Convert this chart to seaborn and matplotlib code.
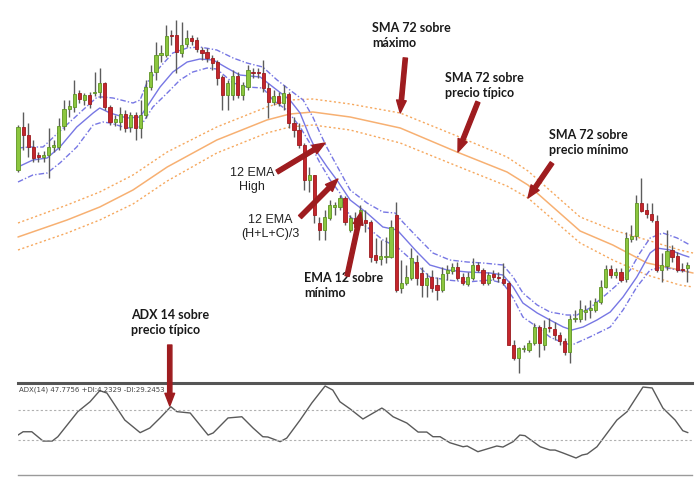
import numpy as np
import pandas as pd
import matplotlib.pyplot as plt
import seaborn as sns

# ---- candles (price points), one value per bar ----
open_ = [230, 273, 265, 253, 245, 243, 245, 253, 253, 274,
         291, 293, 307, 300, 305, 307, 308, 317, 293, 278,
         278, 286, 273, 285, 272, 285, 313, 328, 345, 345,
         365, 365, 347, 356, 362, 360, 350, 348, 342, 338,
         323, 305, 305, 324, 305, 313, 328, 328, 327, 312,
         298, 304, 297, 306, 277, 270, 255, 220, 225, 177,
         170, 182, 193, 193, 202, 170, 182, 178, 180, 178,
         145, 141, 143, 143, 185, 112, 117, 122, 138, 127,
         115, 123, 115, 110, 127, 129, 133, 123, 116, 122,
         135, 130, 117, 126, 123, 121, 117, 55, 42, 51,
         50, 57, 73, 55, 73, 71, 65, 59, 48, 81,
         81, 88, 90, 90, 98, 113, 131, 125, 128, 121,
         161, 164, 197, 190, 186, 179, 130, 134, 150, 144,
         131, 132]
high = [275, 288, 277, 260, 248, 249, 272, 260, 282, 300,
        300, 320, 310, 307, 308, 328, 332, 318, 295, 285,
        293, 290, 288, 288, 300, 320, 335, 358, 355, 375,
        370, 380, 378, 370, 365, 363, 353, 352, 345, 340,
        325, 320, 330, 328, 318, 335, 332, 332, 340, 317,
        310, 308, 315, 308, 283, 277, 257, 233, 225, 183,
        190, 200, 198, 205, 204, 185, 188, 195, 190, 180,
        162, 160, 163, 180, 198, 140, 135, 152, 145, 133,
        127, 130, 123, 133, 135, 137, 138, 127, 128, 142,
        138, 132, 128, 130, 128, 137, 119, 60, 53, 55,
        60, 77, 75, 80, 82, 78, 68, 62, 85, 90,
        100, 95, 100, 102, 120, 135, 135, 132, 132, 168,
        175, 205, 222, 197, 197, 185, 147, 170, 155, 148,
        137, 138]
low = [228, 250, 243, 238, 238, 238, 222, 248, 250, 270,
       283, 288, 297, 295, 292, 304, 302, 290, 275, 274,
       270, 268, 268, 260, 262, 282, 310, 320, 338, 343,
       355, 327, 343, 353, 355, 348, 340, 338, 330, 315,
       290, 290, 300, 302, 300, 310, 322, 322, 308, 282,
       295, 294, 290, 272, 263, 252, 210, 208, 177, 160,
       160, 180, 185, 190, 175, 168, 168, 175, 168, 138,
       137, 135, 137, 142, 108, 107, 115, 120, 115, 103,
       103, 108, 100, 108, 120, 126, 120, 115, 114, 120,
       128, 115, 115, 120, 118, 115, 55, 40, 27, 48,
       48, 55, 43, 50, 68, 60, 55, 45, 37, 78,
       78, 80, 82, 88, 96, 112, 122, 122, 118, 118,
       158, 160, 188, 182, 178, 128, 118, 130, 138, 128,
       128, 118]
close = [273, 265, 253, 242, 243, 245, 253, 255, 274, 291,
         294, 306, 301, 305, 296, 308, 317, 293, 278, 281,
         286, 272, 285, 272, 285, 313, 328, 345, 347, 364,
         364, 348, 355, 362, 359, 351, 347, 342, 337, 322,
         305, 317, 324, 305, 315, 330, 327, 327, 312, 298,
         304, 297, 307, 277, 270, 255, 220, 225, 185, 170,
         183, 195, 195, 202, 178, 182, 173, 190, 177, 143,
         140, 144, 144, 173, 110, 117, 123, 142, 122, 115,
         122, 112, 110, 126, 130, 133, 122, 117, 123, 135,
         130, 117, 125, 123, 122, 117, 55, 42, 52, 52,
         57, 73, 57, 72, 72, 65, 59, 48, 81, 82,
         91, 90, 92, 98, 113, 131, 125, 128, 120, 162,
         164, 197, 189, 186, 180, 130, 135, 149, 143, 130,
         130, 135]

# ---- 12 EMA envelope ----
ema_mid_bar = [0, 2.9, 5.7, 8.2, 11.5, 14.7, 16, 18, 21.3, 23.9, 25.2, 27.8, 30.3, 33.1, 35.6,
               38.2, 40.9, 43.4, 47.4, 49.9, 53.2, 55.2, 57.1, 58.5, 60.5, 62.4, 65, 68.3, 71.4,
               74.2, 78.1, 80.6, 84, 87.9, 92.4, 94.9, 96.9, 98.8, 101.6, 104.1, 106.7, 108.4,
               110.6, 113.3, 115.9, 118.4, 121.1, 123.7, 125, 127.6, 130.1, 131.3]
ema_mid = [233, 240, 242, 253, 273, 287, 292, 287, 282, 283, 293, 313, 328, 338, 341,
           340, 332, 325, 323, 313, 300, 287, 263, 248, 233, 220, 200, 187, 173,
           170, 148, 135, 130, 128, 127, 125, 113, 97, 87, 80, 73, 70,
           73, 80, 88, 103, 123, 147, 152, 150, 145, 143]
ema_high_bar = [0, 2.3, 4.9, 7.8, 12.7, 15.5, 16.6, 18.6, 22.5, 23.9, 25.2, 27.8, 30.3, 33.1, 35.6,
                38.9, 42.1, 44.8, 47.9, 50.7, 53.2, 55.8, 57.7, 59.1, 60.5, 65, 68.3, 71.4, 73.8,
                75.3, 78.1, 81.2, 84.5, 87.9, 91, 94.9, 96.9, 98.8, 101.6, 104.1, 107.4, 109.4,
                111.9, 114.5, 117.2, 119.8, 121.7, 123.7, 126.2, 129, 131.5]
ema_high = [252, 253, 253, 267, 290, 303, 303, 302, 297, 300, 317, 333, 347, 352, 353,
            350, 342, 337, 333, 320, 310, 300, 283, 267, 252, 210, 197, 188, 187,
            178, 163, 147, 140, 138, 137, 135, 123, 107, 95, 88, 85, 85,
            92, 103, 115, 130, 147, 162, 167, 162, 155]
ema_low_bar = [0, 2.9, 5.7, 8.2, 11.5, 14.7, 16.6, 18, 21.3, 23.9, 26.4, 29.2, 31.7, 34.2, 37,
               38.9, 42.1, 44.8, 47.9, 49.9, 52.6, 55.2, 57.1, 59.1, 61.1, 63, 65, 68.3, 71.4,
               74.2, 78.1, 80.6, 84, 87.9, 92.4, 94.9, 96.9, 98.8, 101.6, 104.1, 106.7, 108.4,
               111.9, 115.9, 118.4, 121.1, 123.7, 126.2, 129, 131.3]
ema_low = [218, 225, 227, 237, 253, 275, 278, 277, 272, 273, 293, 307, 320, 328, 332,
           331, 317, 313, 312, 300, 290, 273, 257, 237, 220, 207, 183, 173, 160,
           153, 135, 123, 120, 118, 120, 117, 102, 83, 73, 63, 57, 55,
           63, 73, 90, 113, 130, 133, 130, 128]

# ---- SMA 72 envelope ----
sma_bar = [0, 9.6, 16, 22.5, 29.2, 38.9, 48.7, 53.2, 57.7, 65, 74.8, 85.9, 95.7, 99.8,
           110, 116.4, 123.1, 129.5, 132.1]
sma_mid = [163, 180, 193, 210, 233, 260, 280, 286, 288, 283, 272, 248, 228, 215,
           169, 155, 137, 130, 127]
sma_high = [177, 195, 208, 225, 248, 273, 293, 300, 301, 296, 287, 264, 243, 229,
            183, 170, 160, 150, 147]
sma_low = [150, 167, 180, 196, 219, 247, 267, 273, 275, 270, 257, 234, 214, 202,
           157, 140, 125, 115, 113]

# ---- ADX(14) ----
adx_bar = [0, 1, 2.7, 4.9, 6.7, 7.8, 11.7, 14.1, 16, 17.4, 20.9, 23.9, 25.8, 27.8, 29.9,
           31.1, 33.7, 37.2, 38.2, 41.1, 43.8, 46, 47.9, 48.9, 51.3, 52.6, 55.2, 57.5, 60.1,
           61.6, 63, 65, 67.5, 71.2, 71.8, 73.4, 76.1, 78.3, 80, 81.2, 82.6, 84.5, 87.1,
           87.9, 90, 93.7, 94.9, 96.9, 98.2, 99.2, 102.2, 104.1, 105.1, 106.7, 109.2, 110.4,
           111.4, 113.3, 117.2, 119.2, 122.3, 124.1, 126.2, 128.6, 130.1, 131.1]
adx_val = [23.3, 25.5, 25.5, 19.3, 19.3, 22.2, 38.9, 45.5, 52.9, 51.3, 33.3, 24.9, 28, 34.7, 42.2,
           38.9, 38, 23.3, 24.7, 34.7, 35.5, 28, 22.2, 22, 18.9, 21.3, 33.3, 44.7, 56,
           53.3, 45.5, 40.7, 34, 41.3, 40, 35.5, 31.3, 25.3, 25.3, 22.2, 22.2, 18.2, 15.5,
           16, 12.2, 16, 15.3, 18.9, 23.3, 22.9, 15.5, 13.3, 13.3, 11.3, 8, 10,
           10.7, 15.5, 33.3, 38.9, 55.3, 54.7, 41.3, 33.3, 26.2, 24.9]
adx_levels = [20, 40]

sns.set_style("white")
plt.rcParams['font.family'] = ['Lato', 'DejaVu Sans']

W, H = 700, 478
x0, step = 18, 5.11   # first bar position and bar spacing in px

fig = plt.figure(figsize=(W / 100, H / 100), dpi=100)
ax = fig.add_axes([0, 98 / H, 1, 380 / H])
ax2 = fig.add_axes([x0 / W, 3 / H, 674 / W, 92 / H])

# candles
df = pd.DataFrame({'open': open_, 'high': high, 'low': low, 'close': close})
df['bar'] = np.arange(len(df))
up = df['close'] >= df['open']
ax.vlines(df['bar'], df['low'], df['high'], color='#5c5c5c', lw=1, zorder=3)
body = (df['close'] - df['open']).abs().clip(lower=1.2)
ax.bar(df['bar'], body, bottom=df[['open', 'close']].min(axis=1), width=0.62,
       color=np.where(up, '#8cc63f', '#c4262c'),
       edgecolor=np.where(up, '#5e9424', '#9c1b1f'), lw=0.6, zorder=4)

# SMA 72 (orange)
sns.lineplot(x=sma_bar, y=sma_mid, ax=ax, color='#f7b072', lw=1.1, sort=False, estimator=None, zorder=2)
for ys in (sma_high, sma_low):
    sns.lineplot(x=sma_bar, y=ys, ax=ax, color='#f6a85e', lw=1, sort=False, estimator=None,
                 linestyle=(0, (1.5, 1.8)), zorder=2)

# EMA 12 (blue)
blue = '#7777e4'
sns.lineplot(x=ema_mid_bar, y=ema_mid, ax=ax, color=blue, lw=1, sort=False, estimator=None, zorder=2)
sns.lineplot(x=ema_high_bar, y=ema_high, ax=ax, color=blue, lw=1, sort=False, estimator=None,
             linestyle=(0, (4, 1.5, 1, 1.5)), zorder=2)
sns.lineplot(x=ema_low_bar, y=ema_low, ax=ax, color=blue, lw=1, sort=False, estimator=None,
             linestyle=(0, (4, 1.5, 1, 1.5)), zorder=2)

ax.set_xlim(-x0 / step, (W - x0) / step)
ax.set_ylim(20, 400)
ax.axis('off')

# ADX panel
sns.lineplot(x=adx_bar, y=adx_val, ax=ax2, color='#5a5a5a', lw=1, sort=False, estimator=None)
for lv in adx_levels:
    ax2.axhline(lv, color='#b0b0b0', lw=0.8, linestyle=(0, (2, 2)))
ax2.set_xlim(0, 674 / step)
ax2.set_ylim(-3.33, 58)
ax2.set_xticks([])
ax2.set_yticks([])
ax2.set_xlabel('')
ax2.set_ylabel('')
for s in ('left', 'right'):
    ax2.spines[s].set_visible(False)
ax2.spines['top'].set_color('#555555')
ax2.spines['top'].set_linewidth(2.2)
ax2.spines['bottom'].set_color('#9a9a9a')
ax2.spines['bottom'].set_linewidth(1)
ax2.text(0.2, 56, "ADX(14) 47.7756 +DI:4.2329 -DI:29.2453", fontsize=5, color='#444444',
         family=['DejaVu Sans'], va='top', ha='left')

# labels
bold = dict(fontsize=9, fontweight='bold', color='#1a1a1a', va='top', ha='left', linespacing=1.3)
ax.text(69.3, 378, "SMA 72 sobre\nmáximo", **bold)
ax.text(83.6, 328, "SMA 72 sobre\nprecio típico", **bold)
ax.text(103.9, 271, "SMA 72 sobre\nprecio mínimo", **bold)
ax.text(56, 128, "EMA 12 sobre\nmínimo", **bold)
ax.text(22.1, 91, "ADX 14 sobre\nprecio típico", **bold)
reg = dict(fontsize=9, color='#222222', va='top', ha='center', linespacing=1.2,
           family=['Liberation Sans', 'DejaVu Sans'])
ax.text(45.8, 233, "12 EMA\nHigh", **reg)
ax.text(49.3, 186, "12 EMA\n(H+L+C)/3", **reg)

# arrows
akw = dict(arrowstyle='simple,head_length=0.65,head_width=0.5,tail_width=0.22',
           color='#9e1c1f', mutation_scale=14, shrinkA=0, shrinkB=0)
arrows = [((75.8, 342), (74.8, 287)), ((90, 298), (86.1, 248)), ((104.5, 237), (99.8, 202)),
          ((50.7, 228), (60.1, 257)), ((55.2, 183), (62.6, 221)), ((64.4, 124), (67.1, 188))]
for start, tip in arrows:
    ax.annotate('', xy=tip, xytext=start, arrowprops=akw, zorder=10)
ax2.annotate('', xy=(29.7, 42.7), xycoords='data', xytext=(29.7, 55),
             textcoords=ax.transData, arrowprops=akw, annotation_clip=False, zorder=10)

fig.savefig('out.png', dpi=100)
